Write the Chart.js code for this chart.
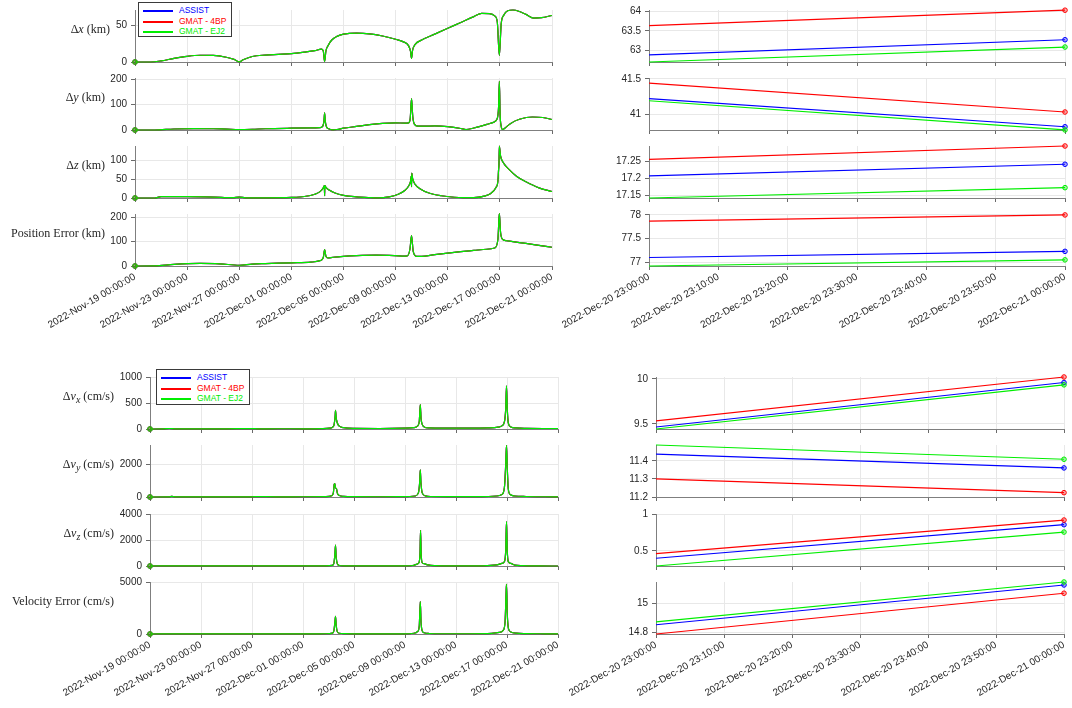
<!DOCTYPE html>
<html><head><meta charset="utf-8">
<script src="https://cdn.jsdelivr.net/npm/chart.js@4.4.0/dist/chart.umd.min.js"></script>
<style>
body{margin:0;width:1072px;height:708px;background:#fff;position:relative;overflow:hidden;font-family:'Liberation Sans',Arial,sans-serif;}
canvas{position:absolute;}
.yl{position:absolute;font-family:'Liberation Serif',serif;font-size:12px;color:#262626;white-space:nowrap;line-height:14px;text-align:right;z-index:5;}
.lg{position:absolute;border:1px solid #3a3a3a;background:#fff;z-index:6;box-sizing:border-box;padding-top:2px;}
.lr{height:10.5px;line-height:10.5px;font-size:8.5px;white-space:nowrap;position:relative;}
.sw{position:absolute;left:4px;top:5px;width:30px;height:2px;}
.lt{position:absolute;left:40px;top:0;}
</style></head><body>
<script>
// ---------- data ----------
const seriesNames = ['ASSIST', 'GMAT - 4BP', 'GMAT - EJ2'];
const seriesColors = ['#0000ff', '#ff0000', '#00ee00'];
const seriesFills = ['rgba(0,0,255,0.3)', 'rgba(255,0,0,0.3)', 'rgba(0,238,0,0.3)'];

// left column: days since 2022-Nov-19 00:00:00
const leftTickDays = [0, 4, 8, 12, 16, 20, 24, 28, 32];
const leftTickLabels = ['2022-Nov-19 00:00:00', '2022-Nov-23 00:00:00', '2022-Nov-27 00:00:00', '2022-Dec-01 00:00:00', '2022-Dec-05 00:00:00', '2022-Dec-09 00:00:00', '2022-Dec-13 00:00:00', '2022-Dec-17 00:00:00', '2022-Dec-21 00:00:00'];
// right column: minutes since 2022-Dec-20 23:00:00
const rightTickMinutes = [0, 10, 20, 30, 40, 50, 60];
const rightTickLabels = ['2022-Dec-20 23:00:00', '2022-Dec-20 23:10:00', '2022-Dec-20 23:20:00', '2022-Dec-20 23:30:00', '2022-Dec-20 23:40:00', '2022-Dec-20 23:50:00', '2022-Dec-21 00:00:00'];

const dxT = [0, 1.2, 2, 3, 4, 5, 6, 7, 7.6, 8, 8.3, 9, 10, 11, 12, 13, 13.8, 14.3, 14.45, 14.55, 14.65, 14.8, 15.1, 15.5, 16, 17, 18, 19, 20, 20.6, 21.0, 21.15, 21.22, 21.3, 21.5, 22, 23, 24, 25, 26, 26.6, 27.2, 27.6, 27.8, 27.96, 28.1, 28.3, 28.6, 29, 29.5, 30, 30.6, 31.2, 32];
const dxV = [0, 0, 1.5, 5, 7.8, 9.2, 9, 6.5, 3.5, 0.3, 3, 7.5, 9.5, 10.5, 11.5, 13.5, 15.5, 17.5, 15, 0.5, 15, 22, 30, 35, 38, 39.5, 38.5, 35.5, 31, 27.5, 22, 14, 5, 16, 24, 30, 38, 46, 54, 62, 66.5, 66, 63, 55, 9, 52, 64, 70, 71, 69, 65, 60, 60.5, 63.5];
const dyT = [0, 1.5, 3, 4.5, 6, 7, 8, 9, 10, 12, 13.5, 14.2, 14.4, 14.5, 14.55, 14.6, 14.7, 14.9, 15.2, 15.5, 16, 17, 18, 19, 20, 20.7, 21.0, 21.12, 21.22, 21.32, 21.45, 21.7, 22.2, 23, 24, 25, 25.4, 26, 27, 27.5, 27.8, 27.9, 27.96, 28.02, 28.1, 28.2, 28.4, 28.8, 29.5, 30.5, 31.3, 32];
const dyV = [0, 0, 4, 5.5, 5, 3.5, 2, 3, 5, 7, 8, 9, 14, 35, 67, 35, 12, 4, 0.5, 2, 7, 14, 21, 26, 28, 27, 28, 45, 123, 50, 22, 15, 15, 16, 13, 6, 2, 8, 22, 30, 45, 90, 191, 60, 15, 2, 8, 25, 42, 51, 49, 41.2];
const dzT = [0, 1.5, 2, 4, 6, 7.5, 8, 8.5, 10, 12, 13, 13.8, 14.2, 14.45, 14.53, 14.55, 14.57, 14.65, 14.9, 15.3, 16, 17, 18, 18.6, 19.5, 20.2, 20.7, 21.0, 21.15, 21.2, 21.22, 21.24, 21.3, 21.5, 21.9, 22.5, 23.5, 24.5, 25.2, 26, 26.8, 27.3, 27.7, 27.85, 27.9, 27.93, 27.96, 28.05, 28.3, 28.7, 29.3, 30, 31, 32];
const dzV = [0, 0, 3.5, 3.5, 2.5, 1, 2.5, 0.5, 0.5, 1.5, 4, 10, 17, 27, 33, 6, 33, 28, 21, 14, 7, 3, 1, 0.3, 3, 10, 20, 32, 45, 58, 30, 66, 52, 36, 24, 14, 6, 2, 1, 1, 5, 12, 28, 45, 75, 90, 138, 112, 92, 76, 57, 43, 27, 17.2];
const peT = [0, 1.5, 3, 5, 6.5, 8, 9, 10, 12, 13.5, 14.2, 14.45, 14.55, 14.65, 14.8, 15.2, 16, 17, 18.5, 19.5, 20.5, 20.9, 21.1, 21.22, 21.35, 21.6, 22, 23, 24, 25, 26, 27, 27.6, 27.85, 27.96, 28.05, 28.2, 28.5, 29, 30, 31, 32];
const peV = [0, 0.5, 7, 10.5, 9, 3, 8, 10, 13, 16, 22, 35, 67, 40, 33, 36, 40, 43, 45, 44, 41, 42, 70, 125, 60, 40, 40, 47, 53, 59, 64, 69, 74, 110, 215, 140, 110, 104, 100, 93, 85, 77.2];
const vxT = [0, 1, 1.5, 2, 4, 6, 8, 8.5, 10, 12, 13.5, 14.1, 14.35, 14.45, 14.52, 14.55, 14.6, 14.7, 14.85, 15.2, 16, 18, 20, 20.7, 21.0, 21.12, 21.2, 21.26, 21.35, 21.5, 21.9, 23, 25, 26.5, 27.3, 27.6, 27.8, 27.9, 27.96, 28.02, 28.1, 28.3, 28.7, 29.5, 31, 32];
const vxV = [0, 2, 10, 3, 2, 4, 8, 3, 5, 4, 8, 15, 40, 100, 250, 360, 220, 110, 55, 25, 12, 10, 15, 25, 60, 150, 470, 200, 90, 40, 20, 15, 15, 20, 35, 60, 140, 400, 830, 400, 120, 40, 20, 12, 10, 9.9];
const vyT = [0, 1.5, 1.7, 2, 5, 8, 8.3, 10, 12, 13.8, 14.25, 14.38, 14.45, 14.5, 14.55, 14.62, 14.7, 14.85, 15.2, 16, 18, 20, 20.8, 21.05, 21.15, 21.2, 21.25, 21.35, 21.6, 22, 24, 26, 27.2, 27.6, 27.8, 27.9, 27.96, 28.02, 28.1, 28.25, 28.6, 29.5, 31, 32];
const vyV = [0, 5, 40, 5, 8, 10, 25, 12, 15, 25, 80, 250, 780, 810, 550, 520, 220, 90, 40, 20, 15, 20, 60, 250, 900, 1660, 900, 250, 70, 30, 20, 25, 60, 150, 600, 2000, 3150, 1800, 500, 150, 60, 30, 15, 11.4];
const vzT = [0, 2, 5, 8, 10, 12, 13.8, 14.3, 14.42, 14.5, 14.55, 14.6, 14.7, 14.85, 15.3, 16, 18, 20, 20.7, 20.95, 21.1, 21.18, 21.22, 21.27, 21.35, 21.5, 21.8, 22.3, 24, 26, 27.2, 27.6, 27.8, 27.9, 27.96, 28.02, 28.1, 28.3, 28.6, 29.2, 30.5, 32];
const vzV = [0, 5, 5, 8, 5, 6, 15, 50, 200, 900, 1600, 700, 150, 40, 15, 8, 8, 15, 60, 150, 260, 1100, 2740, 900, 250, 180, 80, 30, 10, 15, 80, 200, 340, 1200, 3420, 1200, 340, 200, 70, 25, 5, 0.8];
const veT = [0, 2, 5, 8, 12, 13.8, 14.3, 14.42, 14.5, 14.55, 14.6, 14.68, 14.85, 15.3, 16, 18, 20, 20.7, 21.0, 21.12, 21.2, 21.26, 21.35, 21.5, 21.9, 23, 25, 26.8, 27.4, 27.7, 27.85, 27.93, 27.96, 28.02, 28.12, 28.3, 28.7, 29.5, 31, 32];
const veV = [0, 10, 8, 12, 10, 25, 80, 300, 1100, 1700, 900, 250, 70, 30, 20, 15, 20, 70, 250, 800, 3110, 1100, 300, 120, 50, 25, 25, 60, 150, 350, 1200, 4000, 4775, 2000, 500, 200, 80, 35, 20, 15];

// right column: last hour (start, end) per series
const rMinutes = [0, 60];
const rDxAssist = [62.875, 63.27], rDx4bp = [63.64, 64.04], rDxEj2 = [62.69, 63.08];
const rDyAssist = [41.22, 40.82], rDy4bp = [41.44, 41.03], rDyEj2 = [41.19, 40.775];
const rDzAssist = [17.207, 17.241], rDz4bp = [17.255, 17.294], rDzEj2 = [17.143, 17.173];
const rPeAssist = [77.10, 77.23], rPe4bp = [77.87, 78.0], rPeEj2 = [76.92, 77.05];
const rVxAssist = [9.466, 9.959], rVx4bp = [9.533, 10.02], rVxEj2 = [9.444, 9.933];
const rVyAssist = [11.437, 11.361], rVy4bp = [11.3, 11.224], rVyEj2 = [11.488, 11.409];
const rVzAssist = [0.40, 0.855], rVz4bp = [0.464, 0.918], rVzEj2 = [0.295, 0.755];
const rVeAssist = [14.851, 15.131], rVe4bp = [14.786, 15.073], rVeEj2 = [14.872, 15.152];

// y-axis ticks
const yTicksDx = [0, 50], yTicksDy = [0, 100, 200], yTicksDz = [0, 50, 100], yTicksPe = [0, 100, 200];
const yTicksVx = [0, 500, 1000], yTicksVy = [0, 2000], yTicksVz = [0, 2000, 4000], yTicksVe = [0, 5000];
const yTicksRDx = [63, 63.5, 64], yTicksRDy = [41, 41.5], yTicksRDz = [17.15, 17.2, 17.25], yTicksRPe = [77, 77.5, 78];
const yTicksRVx = [9.5, 10], yTicksRVy = [11.2, 11.3, 11.4], yTicksRVz = [0.5, 1], yTicksRVe = [14.8, 15];

// ---------- layout (positions only) ----------
const COLS = {
  TL: {cx: 0, cw: 560, padL: 90, padR: 8},
  TR: {cx: 560, cw: 512, padL: 44, padR: 7},
  BL: {cx: 0, cw: 566, padL: 105, padR: 8},
  BR: {cx: 560, cw: 512, padL: 51, padR: 8}
};
const ROWS_TOP = [10, 78, 146, 214], ROWS_BOT = [377, 445, 514, 582], PLOT_H = 52, YAXIS_W = 45, PAD_TOP = 8;

const panels = [
  {col: 'TL', top: ROWS_TOP[0], t: dxT, v: [dxV, dxV, dxV], yr: [0, 71], yt: yTicksDx, lab: 'Δ<i>x</i> (km)', labR: 110, side: 'L'},
  {col: 'TL', top: ROWS_TOP[1], t: dyT, v: [dyV, dyV, dyV], yr: [0, 204], yt: yTicksDy, lab: 'Δ<i>y</i> (km)', labR: 105, side: 'L'},
  {col: 'TL', top: ROWS_TOP[2], t: dzT, v: [dzV, dzV, dzV], yr: [0, 138], yt: yTicksDz, lab: 'Δ<i>z</i> (km)', labR: 105, side: 'L'},
  {col: 'TL', top: ROWS_TOP[3], t: peT, v: [peV, peV, peV], yr: [0, 214], yt: yTicksPe, lab: 'Position Error (km)', labR: 105, side: 'L', labeled: true},
  {col: 'TR', top: ROWS_TOP[0], t: rMinutes, v: [rDxAssist, rDx4bp, rDxEj2], yr: [62.69, 64.045], yt: yTicksRDx, side: 'R'},
  {col: 'TR', top: ROWS_TOP[1], t: rMinutes, v: [rDyAssist, rDy4bp, rDyEj2], yr: [40.774, 41.514], yt: yTicksRDy, side: 'R'},
  {col: 'TR', top: ROWS_TOP[2], t: rMinutes, v: [rDzAssist, rDz4bp, rDzEj2], yr: [17.143, 17.294], yt: yTicksRDz, side: 'R'},
  {col: 'TR', top: ROWS_TOP[3], t: rMinutes, v: [rPeAssist, rPe4bp, rPeEj2], yr: [76.92, 78.02], yt: yTicksRPe, side: 'R', labeled: true},
  {col: 'BL', top: ROWS_BOT[0], t: vxT, v: [vxV, vxV, vxV], yr: [0, 1000], yt: yTicksVx, lab: 'Δ<i>v</i><sub><i>x</i></sub> (cm/s)', labR: 114, side: 'L'},
  {col: 'BL', top: ROWS_BOT[1], t: vyT, v: [vyV, vyV, vyV], yr: [0, 3170], yt: yTicksVy, lab: 'Δ<i>v</i><sub><i>y</i></sub> (cm/s)', labR: 114, side: 'L'},
  {col: 'BL', top: ROWS_BOT[2], t: vzT, v: [vzV, vzV, vzV], yr: [0, 4000], yt: yTicksVz, lab: 'Δ<i>v</i><sub><i>z</i></sub> (cm/s)', labR: 114, side: 'L'},
  {col: 'BL', top: ROWS_BOT[3], t: veT, v: [veV, veV, veV], yr: [0, 5000], yt: yTicksVe, lab: 'Velocity Error (cm/s)', labR: 114, side: 'L', labeled: true},
  {col: 'BR', top: ROWS_BOT[0], t: rMinutes, v: [rVxAssist, rVx4bp, rVxEj2], yr: [9.444, 10.02], yt: yTicksRVx, side: 'R'},
  {col: 'BR', top: ROWS_BOT[1], t: rMinutes, v: [rVyAssist, rVy4bp, rVyEj2], yr: [11.2, 11.488], yt: yTicksRVy, side: 'R'},
  {col: 'BR', top: ROWS_BOT[2], t: rMinutes, v: [rVzAssist, rVz4bp, rVzEj2], yr: [0.295, 1.0], yt: yTicksRVz, side: 'R'},
  {col: 'BR', top: ROWS_BOT[3], t: rMinutes, v: [rVeAssist, rVe4bp, rVeEj2], yr: [14.786, 15.152], yt: yTicksRVe, side: 'R', labeled: true}
];

const TICK_FONT = {family: "'Liberation Sans', Arial, sans-serif", size: 10};

function buildPanel(p) {
  const c = COLS[p.col];
  const xH = p.labeled ? 80 : 6;
  const cv = document.createElement('canvas');
  cv.width = c.cw; cv.height = PAD_TOP + PLOT_H + xH;
  cv.style.left = c.cx + 'px'; cv.style.top = (p.top - PAD_TOP) + 'px';
  document.body.appendChild(cv);
  const isLeft = p.side === 'L';
  const xTicks = isLeft ? leftTickDays : rightTickMinutes;
  const xLabels = isLeft ? leftTickLabels : rightTickLabels;
  const markIdx = isLeft ? 0 : p.t.length - 1;
  const datasets = seriesNames.map((name, k) => ({
    label: name,
    data: p.t.map((tt, i) => ({x: tt, y: p.v[k][i]})),
    borderColor: seriesColors[k],
    backgroundColor: seriesFills[k],
    borderWidth: 1.2,
    pointRadius: ctx => ctx.dataIndex === markIdx ? 2.3 : 0,
    pointBorderColor: seriesColors[k],
    pointBackgroundColor: seriesFills[k],
    pointBorderWidth: 1,
    cubicInterpolationMode: isLeft ? 'monotone' : 'default',
    order: 2 - k,
    clip: false
  }));
  new Chart(cv, {
    type: 'line',
    data: {datasets},
    options: {
      responsive: false, animation: false, devicePixelRatio: 1, events: [],
      layout: {padding: {left: c.padL, right: c.padR, top: PAD_TOP, bottom: 0}},
      plugins: {legend: {display: false}, tooltip: {enabled: false}},
      scales: {
        x: {
          type: 'linear', min: xTicks[0], max: xTicks[xTicks.length - 1],
          afterBuildTicks: s => { s.ticks = xTicks.map(v => ({value: v})); },
          ticks: {display: !!p.labeled, autoSkip: false, minRotation: 30, maxRotation: 30, padding: 1,
                  color: '#262626', font: TICK_FONT, callback: (v, i) => xLabels[i]},
          grid: {color: '#e8e8e8', tickColor: '#6a6a6a', tickLength: 4, drawTicks: true},
          border: {color: '#7f7f7f', width: 1},
          afterFit: s => { s.height = xH; s.paddingLeft = 0; s.paddingRight = 0; }
        },
        y: {
          type: 'linear', min: p.yr[0], max: p.yr[1],
          afterBuildTicks: s => { s.ticks = p.yt.map(v => ({value: v})); },
          ticks: {autoSkip: false, padding: 4, color: '#262626', font: TICK_FONT, callback: v => String(v)},
          grid: {color: '#e8e8e8', tickColor: '#6a6a6a', tickLength: 4, drawTicks: true},
          border: {color: '#7f7f7f', width: 1},
          afterFit: s => { s.width = YAXIS_W; s.paddingTop = 0; s.paddingBottom = 0; }
        }
      }
    }
  });
  if (p.lab) {
    const d = document.createElement('div');
    d.className = 'yl';
    d.style.left = '0px'; d.style.width = p.labR + 'px';
    d.style.top = (p.top + PLOT_H / 2 - 14) + 'px';
    d.innerHTML = p.lab;
    document.body.appendChild(d);
  }
}
panels.forEach(buildPanel);

function buildLegend(left, top, w, h) {
  const lg = document.createElement('div');
  lg.className = 'lg';
  lg.style.left = left + 'px'; lg.style.top = top + 'px';
  lg.style.width = w + 'px'; lg.style.height = h + 'px';
  seriesNames.forEach((n, k) => {
    const r = document.createElement('div');
    r.className = 'lr';
    const sw = document.createElement('div'); sw.className = 'sw'; sw.style.background = seriesColors[k];
    const tx = document.createElement('span'); tx.className = 'lt'; tx.style.color = seriesColors[k]; tx.textContent = n;
    r.appendChild(sw); r.appendChild(tx); lg.appendChild(r);
  });
  document.body.appendChild(lg);
}
buildLegend(138, 2, 94, 35);
buildLegend(156, 369, 94, 36);
</script>
</body></html>
